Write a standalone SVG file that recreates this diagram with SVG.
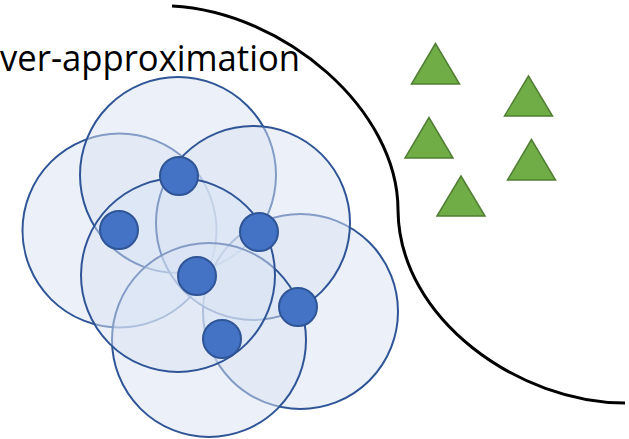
<svg xmlns="http://www.w3.org/2000/svg" width="629" height="439" viewBox="0 0 629 439">
<style>
.zone{fill:#DAE3F3;fill-opacity:0.5;stroke:#2F5597;stroke-width:2}
.pt{fill:#4472C4;stroke:#2F5597;stroke-width:2}
.tri{fill:#70AD47;stroke:#507E32;stroke-width:1.5}
.lbl{font-family:"Open Sans","Liberation Sans",sans-serif;font-size:36px;fill:#000}
.bound{fill:none;stroke:#000;stroke-width:3}
</style>
<rect width="629" height="439" fill="#fff"/>
<g id="label"><text class="lbl" x="0" y="71" textLength="300" lengthAdjust="spacingAndGlyphs">ver-approximation</text></g>
<g id="boundary"><path class="bound" d="M172,6 C285,12 398,110 398,210 C399,320 520,403 625,403"/></g>
<g id="zones">
<circle id="zone-left" class="zone" cx="119.5" cy="230.5" r="97"/>
<circle id="zone-top" class="zone" cx="178" cy="175" r="98"/>
<circle id="zone-lowright" class="zone" cx="300.5" cy="311.5" r="97.5"/>
<circle id="zone-upright" class="zone" cx="253" cy="223" r="97"/>
<circle id="zone-low" class="zone" cx="209" cy="340" r="97"/>
<circle id="zone-center" class="zone" cx="178" cy="275" r="97"/>
</g>
<g id="points">
<circle id="p1" class="pt" cx="179" cy="176" r="19"/>
<circle id="p2" class="pt" cx="119" cy="230" r="19"/>
<circle id="p3" class="pt" cx="259" cy="232" r="19"/>
<circle id="p4" class="pt" cx="197" cy="276" r="19"/>
<circle id="p5" class="pt" cx="298" cy="307" r="19"/>
<circle id="p6" class="pt" cx="222" cy="339" r="19"/>
</g>
<g id="triangles">
<polygon id="t1" class="tri" points="435.5,43.5 411.5,84 459.5,84"/>
<polygon id="t2" class="tri" points="528.5,76 504.5,116 552.5,116"/>
<polygon id="t3" class="tri" points="429,117.5 405,158 453,158"/>
<polygon id="t4" class="tri" points="531.5,139.5 507.5,180 555.5,180"/>
<polygon id="t5" class="tri" points="461,176 437,216 485,216"/>
</g>
</svg>
